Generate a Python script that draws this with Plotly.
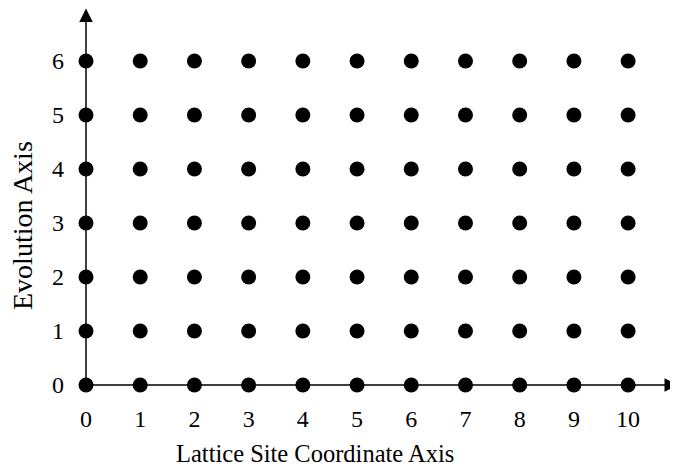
import plotly.graph_objects as go

x_sites = list(range(0, 11))
y_steps = list(range(0, 7))
x_tick_labels = [str(v) for v in x_sites]
y_tick_labels = [str(v) for v in y_steps]

xs = [x for y in y_steps for x in x_sites]
ys = [y for y in y_steps for x in x_sites]

FONT = "Liberation Serif"

fig = go.Figure()
fig.add_trace(go.Scatter(x=xs, y=ys, mode="markers",
                         marker=dict(size=15, color="black"),
                         cliponaxis=False, hoverinfo="skip"))

XEND = 10.92
YEND = 6.98
XARROW = 10.92
YARROW = 6.97
fig.add_annotation(x=XARROW, y=0, ax=0, ay=0, xref="x", yref="y", axref="x", ayref="y",
                   showarrow=True, arrowhead=2, arrowsize=1.8, arrowwidth=1.5,
                   arrowcolor="black", text="")
fig.add_annotation(x=0, y=YARROW, ax=0, ay=0, xref="x", yref="y", axref="x", ayref="y",
                   showarrow=True, arrowhead=2, arrowsize=1.8, arrowwidth=1.5,
                   arrowcolor="black", text="")

fig.add_annotation(xref="paper", yref="paper", x=0.3868, y=-0.1804,
                   text="Lattice Site Coordinate Axis", showarrow=False,
                   xanchor="center", yanchor="middle",
                   font=dict(family=FONT, size=24.5, color="black"))
fig.add_annotation(xref="paper", yref="paper", x=-0.1064, y=0.4218,
                   text="Evolution Axis", textangle=-90, showarrow=False,
                   xanchor="center", yanchor="middle",
                   font=dict(family=FONT, size=28, color="black"))

fig.update_layout(
    width=670, height=462,
    margin=dict(l=78, r=0, t=0, b=85),
    plot_bgcolor="white", paper_bgcolor="white",
    showlegend=False,
    font=dict(family=FONT, size=24, color="black"),
    xaxis=dict(range=[0, XEND], tickmode="array", tickvals=x_sites, ticktext=x_tick_labels,
               showgrid=False, zeroline=False, showline=False, ticks="", ticklabelstandoff=17),
    yaxis=dict(range=[0, YEND], tickmode="array", tickvals=y_steps, ticktext=y_tick_labels,
               showgrid=False, zeroline=False, showline=False, ticks="", ticklabelstandoff=21),
)

fig.write_html("out.html")
